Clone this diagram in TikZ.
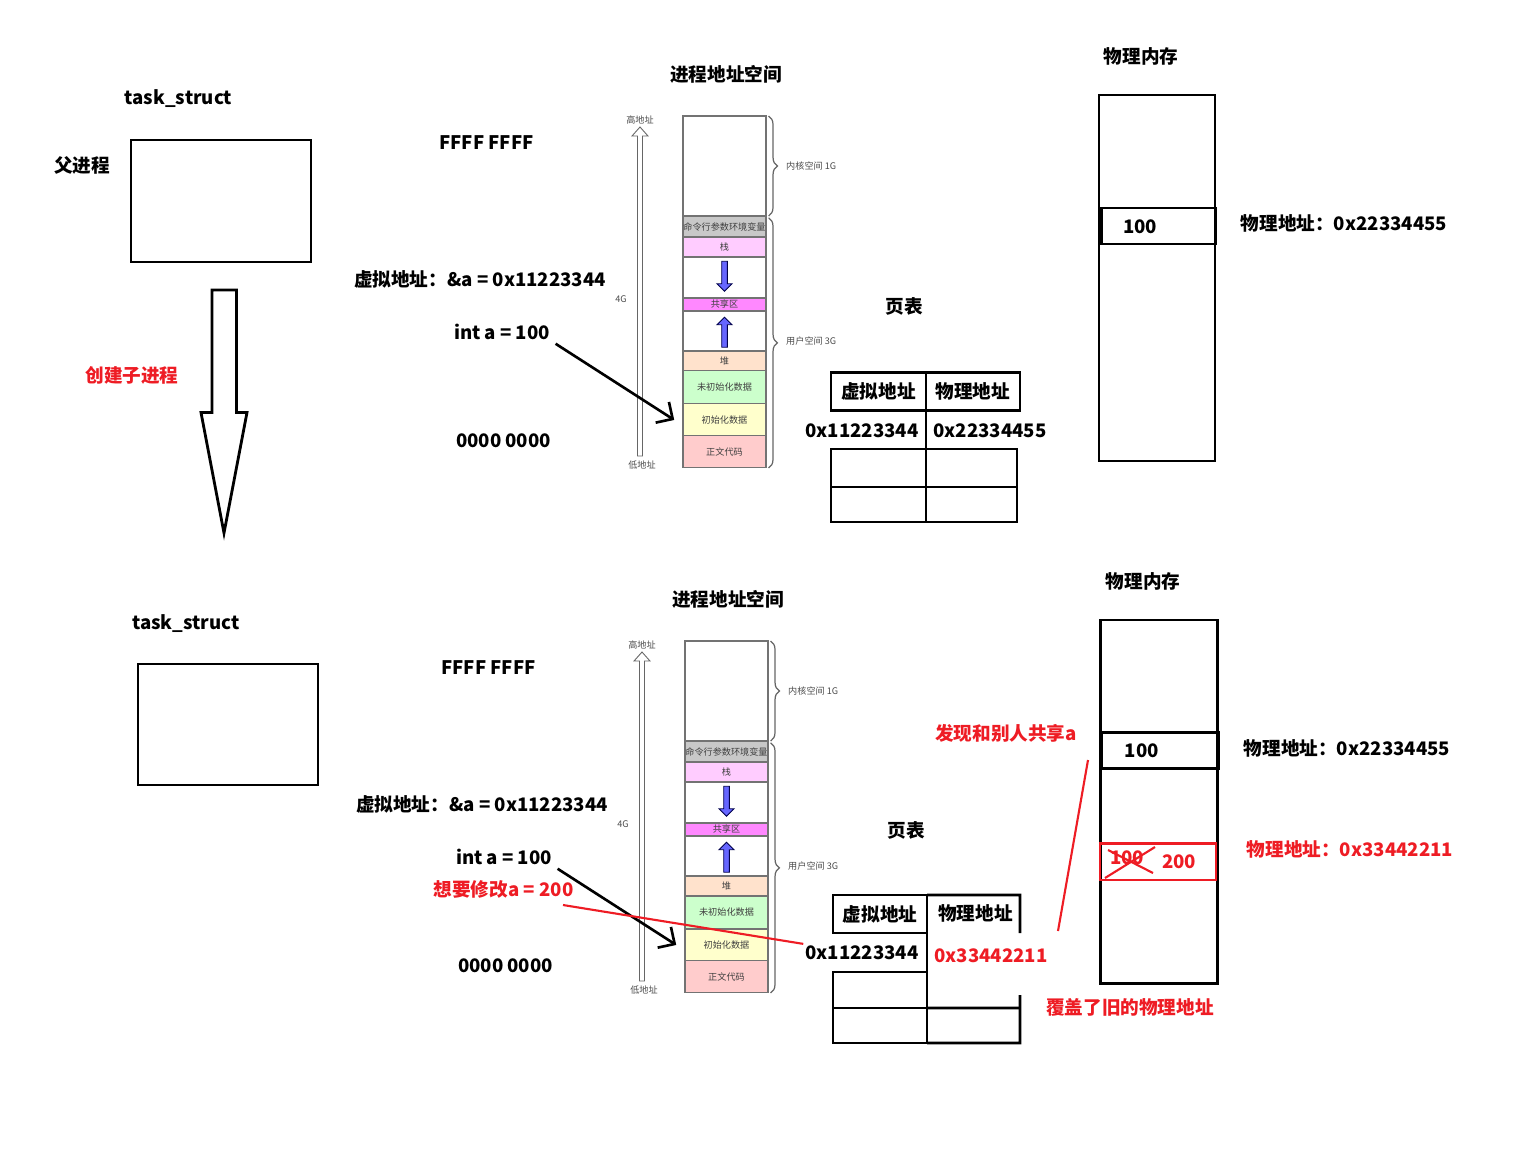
\documentclass[tikz,border=0pt]{standalone}
\usepackage{fontspec}
\setmainfont{Noto Sans CJK SC}
\usetikzlibrary{positioning, calc, arrows.meta, shapes.arrows, decorations.pathreplacing}

\definecolor{penred}{HTML}{EE1C24}
\definecolor{cmdgray}{HTML}{C8C8C8}
\definecolor{stackpink}{HTML}{FFCCFF}
\definecolor{sharedpink}{HTML}{FF88FF}
\definecolor{heappeach}{HTML}{FFE2CC}
\definecolor{bssgreen}{HTML}{CCFFCC}
\definecolor{datayellow}{HTML}{FFFFCC}
\definecolor{textred}{HTML}{FFCCCC}
\definecolor{arrblue}{HTML}{6666FF}

\tikzset{
  tbig/.style={font=\bfseries\fontsize{10.6}{12}\selectfont, inner sep=1pt},
  tred/.style={tbig, text=penred},
  tsmall/.style={font=\fontsize{5.2}{6}\selectfont, text=black!70, inner sep=0.5pt},
  tseg/.style={draw=black!55, line width=0.6pt, minimum width=1.66cm, inner sep=0pt, outer sep=0pt,
    font=\fontsize{5.2}{6}\selectfont, text=black!75},
  tbox/.style={draw, line width=1.6pt, inner sep=0pt, outer sep=0pt},
  tcell/.style={tbox, tbig, minimum height=0.76cm},
  tbrace/.style={draw=black!60, line width=0.7pt, decorate, decoration={brace, amplitude=5pt}},
  thand/.style={line width=1.5pt, -{Straight Barb[length=7pt, width=14pt]}},
  tredline/.style={draw=penred, line width=1.2pt},
  tblue/.style={single arrow, draw=blue!30!black, fill=arrblue, line width=0.5pt, minimum height=0.6cm,
    minimum width=0.3cm, single arrow head extend=2.6pt, inner sep=1.3pt}
}

\begin{document}
\begin{tikzpicture}[x=0.02cm, y=-0.02cm]
\fill[white] (0,0) rectangle (1534,1154);
\useasboundingbox (0,0) rectangle (1534,1154);

% parent process
\node[tbig] (tska) at (178.5,99) {task\_struct};
\node[tbig] (father) at (82,165) {父进程};
\node[tbox, minimum width=3.6cm, minimum height=2.44cm] (parent) at (221,201) {};
\draw[line width=1.6pt, fill=white] (212,290) -- (236.5,290) -- (236.5,412.5) -- (247,412.5)
  -- (224,533) -- (201,412.5) -- (212,412.5) -- cycle;
\node[tred] (mkchild) at (132,375) {创建子进程};

% child process
\node[tbig] (tskb) at (186,624) {task\_struct};
\node[tbox, minimum width=3.6cm, minimum height=2.42cm] (child) at (228,724.5) {};

% address space (both processes)
\foreach \s/\dx/\dy in {t/0/0, b/2/525}{
\begin{scope}[shift={(\dx,\dy)}]
  \node[tbig] (title\s) at (726,74) {进程地址空间};
  \node[tbig] (ffff\s) at (486.5,143) {FFFF FFFF};
  \node[tbig] (vaddr\s) at (480,279) {虚拟地址：\&a = 0x11223344};
  \node[tbig] (inta\s) at (502,332) {int a = 100};
  \node[tbig] (zero\s) at (503.5,441) {0000 0000};

  \node[tseg, minimum height=2cm] (kern\s) at (724.5,166) {};
  \node[tseg, minimum height=0.42cm, fill=cmdgray, below=0pt of kern\s] (cmd\s) {命令行参数环境变量};
  \node[tseg, minimum height=0.4cm, fill=stackpink, below=0pt of cmd\s] (stack\s) {栈};
  \node[tseg, minimum height=0.82cm, below=0pt of stack\s] (gapa\s) {};
  \node[tseg, minimum height=0.26cm, fill=sharedpink, below=0pt of gapa\s] (shared\s) {共享区};
  \node[tseg, minimum height=0.8cm, below=0pt of shared\s] (gapb\s) {};
  \node[tseg, minimum height=0.4cm, fill=heappeach, below=0pt of gapb\s] (heap\s) {堆};
  \node[tseg, minimum height=0.66cm, fill=bssgreen, below=0pt of heap\s] (bss\s) {未初始化数据};
  \node[tseg, minimum height=0.64cm, fill=datayellow, below=0pt of bss\s] (data\s) {初始化数据};
  \node[tseg, minimum height=0.64cm, fill=textred, below=0pt of data\s] (code\s) {正文代码};

  \node[tblue, rotate=-90] (down\s) at ([yshift=1.5pt]gapa\s) {};
  \node[tblue, rotate=90] (up\s) at ([yshift=-1.5pt]gapb\s) {};

  \draw[tbrace] ([xshift=1.5pt]kern\s.north east) -- ([xshift=1.5pt]kern\s.south east);
  \draw[tbrace] ([xshift=1.5pt,yshift=-1pt]cmd\s.north east) -- ([xshift=1.5pt]code\s.south east);
  \node[tsmall, anchor=west] (kspace\s) at (785,166) {内核空间 1G};
  \node[tsmall, anchor=west] (uspace\s) at (785,341) {用户空间 3G};

  % 4G address axis
  \draw[draw=black!60, fill=white, line width=0.5pt] (637.5,456) -- (637.5,136) -- (632,136)
    -- (640,127) -- (648,136) -- (642.5,136) -- (642.5,456) -- cycle;
  \node[tsmall] (high\s) at (640,120) {高地址};
  \node[tsmall] (low\s) at (642,465) {低地址};
  \node[tsmall] (four\s) at (621,299) {4G};

  \draw[thand] ([xshift=2pt,yshift=-1pt]inta\s.south east) -- ([xshift=-5pt]data\s.west);
\end{scope}
}

% page table (parent)
\node[tbig] (pgt) at (904,306) {页表};
\node[tcell, minimum width=1.9cm] (vht) at (878.5,391.5) {虚拟地址};
\node[tcell, minimum width=1.88cm, right=0pt of vht] (pht) {物理地址};
\node[tbig] (vat) at (862,431) {0x11223344};
\node[tbig] (pat) at (990,431) {0x22334455};
\node[tbox, minimum width=1.9cm, minimum height=0.76cm] (c1t) at (878.5,468) {};
\node[tbox, minimum width=1.82cm, minimum height=0.76cm, right=0pt of c1t] (c2t) {};
\node[tbox, minimum width=1.9cm, minimum height=0.7cm, below=0pt of c1t] (c3t) {};
\node[tbox, minimum width=1.82cm, minimum height=0.7cm, right=0pt of c3t] (c4t) {};
\draw[line width=1.2pt] (vht.south east) -- (c1t.north east);

% physical memory (parent)
\node[tbig] (pmt) at (1141,56) {物理内存};
\node[tbox, minimum width=2.32cm, minimum height=7.32cm] (memt) at (1157,278) {};
\node[tbox, minimum width=2.28cm, minimum height=0.72cm] (cellt) at (1158.5,226) {};
\node[tbig] (hundt) at (1140,227) {100};
\node[tbig] (paddrt) at (1344,223) {物理地址：0x22334455};

% page table (child)
\node[tbig] (pgb) at (906,830) {页表};
\node[tcell, minimum width=1.88cm] (vhb) at (880,914) {虚拟地址};
\node[tbig] (phb) at (975.5,913) {物理地址};
\draw[line width=1.6pt] (vhb.north east) -- (1020,895) -- (1020,933);
\node[tbox, minimum width=1.88cm, minimum height=0.72cm] (c1b) at (880,990) {};
\node[tbox, minimum width=1.88cm, minimum height=0.7cm, below=0pt of c1b] (c3b) {};
\draw[line width=1.6pt] (vhb.south east) -- (c3b.south east);
\draw[line width=1.6pt] (c1b.south east) -- (1020,1008);
\draw[line width=1.6pt] (c3b.south east) -- (1020,1043) -- (1020,995);
\node[tbig] (vab) at (862,953) {0x11223344};
\node[tred] (pab) at (991,956) {0x33442211};

% physical memory (child)
\node[tbig] (pmb) at (1143,581) {物理内存};
\node[tbox, minimum width=2.33cm, minimum height=7.27cm] (memb) at (1159,801.7) {};
\node[tbox, minimum width=2.33cm, minimum height=0.71cm] (cellb) at (1160,750.5) {};
\node[tbig] (hundb) at (1141.7,751) {100};
\node[tbig] (paddrb) at (1347,748) {物理地址：0x22334455};
\node[tbox, draw=penred, minimum width=2.32cm, minimum height=0.73cm] (newcell) at (1158,861.7) {};
\node[tred] (oldv) at (1127,858) {100};
\draw[tredline] (1108,850) -- (1153,873);
\draw[tredline] (1105,878) -- (1155,847);
\node[tred] (newv) at (1179,862) {200};
\node[tred] (paddrn) at (1350,849) {物理地址：0x33442211};

% copy on write notes
\node[tred] (want) at (503.5,889) {想要修改a = 200};
\coordinate (wantA) at (563,905);
\draw[tredline] (wantA) -- (vab.north west);
\node[tred] (share) at (1006,733) {发现和别人共享a};
\coordinate (shareA) at (1088,760);
\coordinate (shareB) at (1058,931);
\draw[tredline] (shareA) -- (shareB);
\node[tred] (cover) at (1130,1007) {覆盖了旧的物理地址};
\end{tikzpicture}
\end{document}
